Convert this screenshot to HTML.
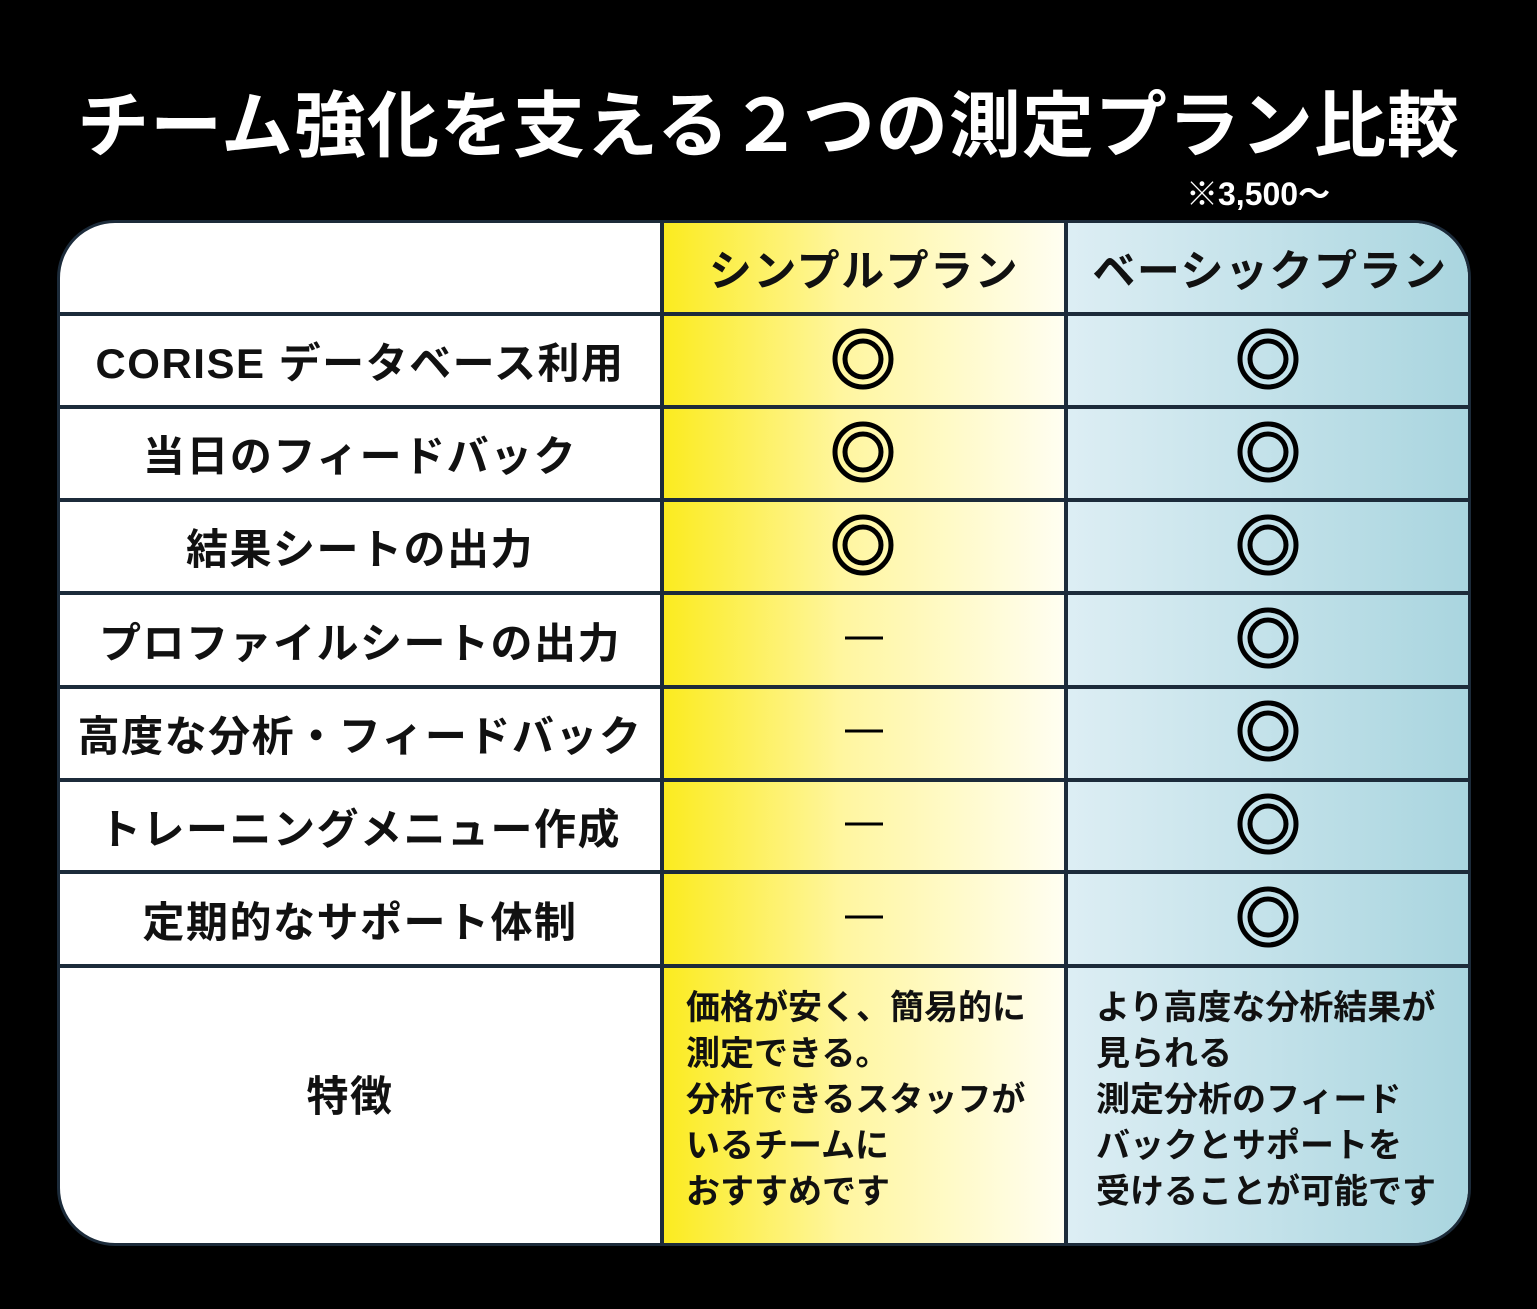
<!DOCTYPE html>
<html><head><meta charset="utf-8"><style>
*{margin:0;padding:0;box-sizing:border-box}
body{width:1537px;height:1309px;background:#000;position:relative;overflow:hidden;font-family:"Liberation Sans","Noto Sans CJK JP",sans-serif;font-weight:bold;color:#111}
.title{position:absolute;left:0;width:1537px;top:82px;text-align:center;color:#fff;font-size:72px;letter-spacing:1px;line-height:90px;white-space:nowrap}
.price{position:absolute;left:1186px;top:175px;color:#fff;font-size:32px;line-height:38px}
.tbl{position:absolute;left:57px;top:220px;width:1414px;height:1026px;border-radius:58px;overflow:hidden;background:#fff;border:3px solid #1c2b3a}
.col2{position:absolute;left:602px;top:0;width:404px;height:100%;background:linear-gradient(to right,#fbeb1e,#fff6a0 45%,#fffef2 100%)}
.col3{position:absolute;left:1006px;top:0;width:406px;height:100%;background:linear-gradient(to right,#ddeef4,#a9d5df)}
.h{position:absolute;left:0;width:100%;height:4px;background:#1c2b3a}
.v{position:absolute;top:0;height:100%;width:4px;background:#1c2b3a}
.c{position:absolute;display:flex;align-items:center;justify-content:center;font-size:42px;letter-spacing:1.5px;white-space:nowrap}
.f{position:absolute;font-size:34px;line-height:46px;white-space:nowrap}
</style></head><body>
<div class="title">チーム強化を支える２つの測定プラン比較</div>
<div class="price">※3,500〜</div>
<div class="tbl">
<div class="col2"></div><div class="col3"></div>
<div class="v" style="left:600px"></div><div class="v" style="left:1004px"></div>
<div class="h" style="top:89px"></div><div class="h" style="top:182px"></div><div class="h" style="top:275px"></div><div class="h" style="top:368px"></div><div class="h" style="top:462px"></div><div class="h" style="top:555px"></div><div class="h" style="top:647px"></div><div class="h" style="top:741px"></div>
<div class="c" style="left:604px;width:400px;top:0;height:89px;font-size:43px">シンプルプラン</div>
<div class="c" style="left:1008px;width:404px;top:0;height:89px;font-size:43px">ベーシックプラン</div>
<div class="c" style="left:0;width:600px;top:93px;height:89px">CORISE データベース利用</div>
<div class="c" style="left:0;width:600px;top:186px;height:89px">当日のフィードバック</div>
<div class="c" style="left:0;width:600px;top:279px;height:89px">結果シートの出力</div>
<div class="c" style="left:0;width:600px;top:372px;height:90px">プロファイルシートの出力</div>
<div class="c" style="left:0;width:600px;top:466px;height:89px">高度な分析・フィードバック</div>
<div class="c" style="left:0;width:600px;top:559px;height:88px">トレーニングメニュー作成</div>
<div class="c" style="left:0;width:600px;top:651px;height:90px">定期的なサポート体制</div>
<div class="c" style="left:0;width:600px;top:745px;height:250px;padding-right:20px">特徴</div>
<svg style="position:absolute;left:0;top:0" width="1410" height="1020">
<g fill="none" stroke="#000" stroke-width="5">
<circle cx="803" cy="136" r="28"/><circle cx="803" cy="136" r="18"/>
<circle cx="803" cy="229" r="28"/><circle cx="803" cy="229" r="18"/>
<circle cx="803" cy="322" r="28"/><circle cx="803" cy="322" r="18"/>
<circle cx="1208" cy="136" r="28"/><circle cx="1208" cy="136" r="18"/>
<circle cx="1208" cy="229" r="28"/><circle cx="1208" cy="229" r="18"/>
<circle cx="1208" cy="322" r="28"/><circle cx="1208" cy="322" r="18"/>
<circle cx="1208" cy="415" r="28"/><circle cx="1208" cy="415" r="18"/>
<circle cx="1208" cy="508" r="28"/><circle cx="1208" cy="508" r="18"/>
<circle cx="1208" cy="601" r="28"/><circle cx="1208" cy="601" r="18"/>
<circle cx="1208" cy="694" r="28"/><circle cx="1208" cy="694" r="18"/>
</g>
<g stroke="#000" stroke-width="3">
<line x1="785" y1="415" x2="823" y2="415"/><line x1="785" y1="508" x2="823" y2="508"/><line x1="785" y1="601" x2="823" y2="601"/><line x1="785" y1="694" x2="823" y2="694"/>
</g>
</svg>
<div class="f" style="left:626px;top:762px">価格が安く、簡易的に<br>測定できる。<br>分析できるスタッフが<br>いるチームに<br>おすすめです</div>
<div class="f" style="left:1036px;top:762px">より高度な分析結果が<br>見られる<br>測定分析のフィード<br>バックとサポートを<br>受けることが可能です</div>
</div>
</body></html>
